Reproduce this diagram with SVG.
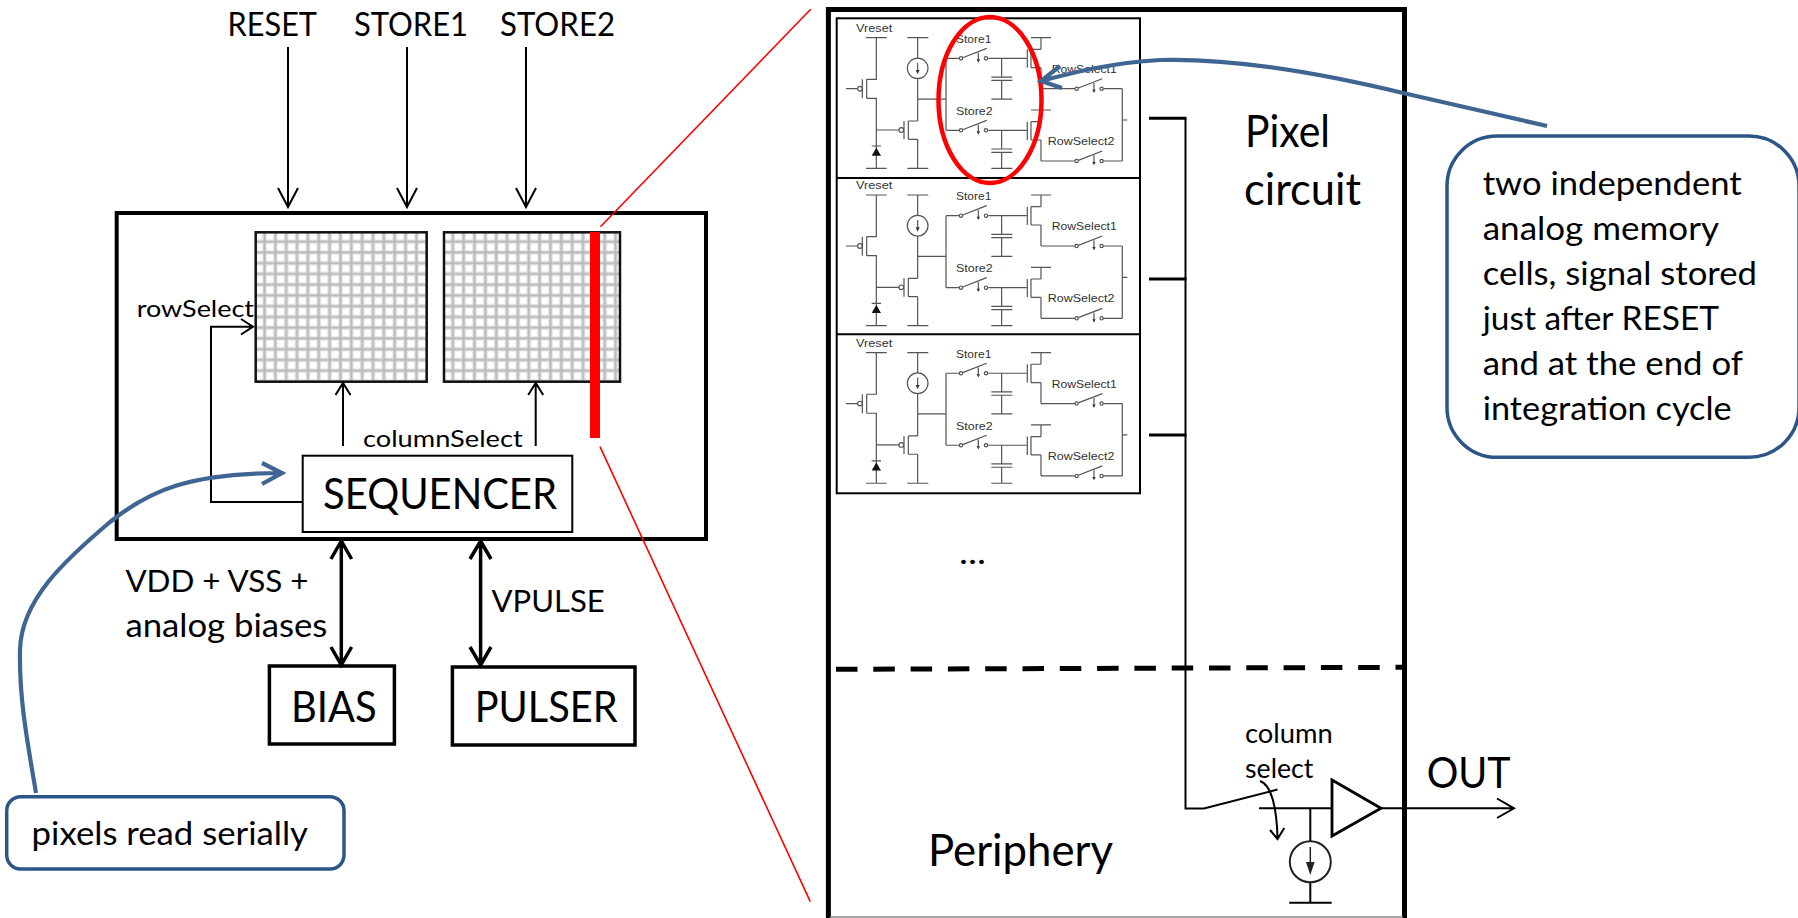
<svg xmlns="http://www.w3.org/2000/svg" width="1798" height="918" viewBox="0 0 1798 918">
<style>
text{font-family:Lato,"Liberation Sans",sans-serif;fill:#000}
.s32{font-size:33px}.s30{font-size:31px}.s22{font-size:24px}.s24{font-size:27px}.s41{font-size:42px}.s44{font-size:45px}.s33{font-size:33.500px}
.c{font-family:"Liberation Sans",Arial,sans-serif;font-size:11.5px;fill:#333}
.box{fill:#fff;stroke:#000;stroke-width:4}
.thin{fill:none;stroke:#000;stroke-width:2}
.thick{fill:none;stroke:#000;stroke-width:3.5}
.red{fill:none;stroke:#f00;stroke-width:1.6}
.blue{fill:none;stroke:#3f6592;stroke-width:4.2}
.call{fill:#fff;stroke:#2c5688;stroke-width:3.5}
.w{fill:none;stroke:#555;stroke-width:3.6}
</style>
<defs>
<pattern id="cells" patternUnits="userSpaceOnUse" x="259.1" y="236.300" width="10.85" height="10.75">
<rect width="10.85" height="10.75" fill="#fff"/>
<path d="M5.425 0V10.75M0 5.375H10.85" fill="none" stroke="#e4e4e4" stroke-width="4.500"/>
<path d="M5.425 0V10.75M0 5.375H10.85" fill="none" stroke="#b8b8b8" stroke-width="2"/>
</pattern>
<g id="sw"><circle cx="0" cy="0" r="5" class="w"/><circle cx="75" cy="0" r="5" class="w"/><path class="w" d="M5-2L77-30M52-17V8"/><path d="M47 3h10l-5 10z" fill="#333"/></g>
<g id="circuit">
<path class="w" d="M108 60H170M139 60V185H110M110 185V242M110 242H139V452M97 185V242M83 213H48M108 452H170M125 385H153M139 337H207M222 310V365M235 310V365M235 310H263M235 365H263M263 60V121M263 183V310M263 365V452M232 60H295M232 452H295M263 244H348M348 122V338M348 122H388M475 122H590M515 122V178M484 178H547M484 188H547M515 188V244M484 244H547M592 95V150M603 95V150M603 95H633M603 150H633M633 60V95M603 60H663M633 150V213M633 213H735M820 213H877M877 213V430M877 307H892M348 338H388M475 338H590M515 338V394M484 394H547M484 404H547M515 404V452M484 452H547M592 312V367M603 312V367M603 312H633M603 367H633M633 277V312M603 277H663M633 367V430M633 430H735M820 430H877"/>
<circle class="w" cx="90" cy="213" r="7"/><circle class="w" cx="214" cy="337" r="7"/><circle class="w" cx="263" cy="152" r="31"/>
<path class="w" d="M263 135V160"/><path d="M257 157h12l-6 13z" fill="#333"/>
<path d="M125 414H153L139 390z" fill="#111"/>
<use href="#sw" x="393" y="122"/><use href="#sw" x="393" y="338"/><use href="#sw" x="740" y="213"/><use href="#sw" x="740" y="430"/>
</g>
</defs>

<g id="sensor"><rect class="box" x="116.700" y="213" width="589.300" height="326"/></g>
<g id="matrix1"><rect x="255.700" y="232.300" width="171" height="149.400" fill="url(#cells)" stroke="#111" stroke-width="2.500"/></g>
<g id="matrix2" transform="translate(188.300 0)"><rect x="255.700" y="232.300" width="176" height="149.400" fill="url(#cells)" stroke="#111" stroke-width="2.500"/></g>
<rect id="column-highlight" x="590" y="232" width="10" height="206" fill="#f00"/>
<g id="sequencer"><rect x="302.700" y="455.700" width="269.600" height="76.300" fill="#fff" stroke="#000" stroke-width="2"/>
<text class="s41" x="323" y="509" textLength="234" lengthAdjust="spacingAndGlyphs">SEQUENCER</text></g>
<g id="bias"><rect x="269.400" y="666" width="125" height="78" fill="#fff" stroke="#000" stroke-width="3.500"/>
<text class="s41" x="291" y="721.700" textLength="85.700" lengthAdjust="spacingAndGlyphs">BIAS</text></g>
<g id="pulser"><rect x="452.400" y="667" width="182.600" height="78" fill="#fff" stroke="#000" stroke-width="3.500"/>
<text class="s41" x="474.700" y="721.700" textLength="143" lengthAdjust="spacingAndGlyphs">PULSER</text></g>

<g id="labels">
<text class="s32" x="227.600" y="36" textLength="89.400" lengthAdjust="spacingAndGlyphs">RESET</text>
<text class="s32" x="354" y="36" textLength="114" lengthAdjust="spacingAndGlyphs">STORE1</text>
<text class="s32" x="500" y="36" textLength="115" lengthAdjust="spacingAndGlyphs">STORE2</text>
<text class="s22" x="136.700" y="317" textLength="117.300" lengthAdjust="spacingAndGlyphs">rowSelect</text>
<text class="s22" x="363" y="446.700" textLength="159.700" lengthAdjust="spacingAndGlyphs">columnSelect</text>
<text class="s30" x="125.400" y="591.700" textLength="183" lengthAdjust="spacingAndGlyphs">VDD + VSS +</text>
<text class="s33" x="125.400" y="636.700" textLength="202" lengthAdjust="spacingAndGlyphs">analog biases</text>
<text class="s30" x="491.600" y="612.300" textLength="113.200" lengthAdjust="spacingAndGlyphs">VPULSE</text>
</g>

<g id="pixel-panel">
<path d="M828.400 918V9.500H1404.500V918" fill="none" stroke="#000" stroke-width="5"/>
<path d="M830 917H1403" stroke="#888" stroke-width="1.500"/>
<path d="M836 669.300L1403 667.300" fill="none" stroke="#000" stroke-width="5" stroke-dasharray="21.500 15.800"/>
<rect x="836.700" y="18.300" width="303.300" height="475" fill="#fff" stroke="#000" stroke-width="2"/>
<path d="M836.700 178H1140M836.700 334.300H1140" stroke="#000" stroke-width="2"/>
</g>
<g id="pixel1">
<use href="#circuit" transform="translate(830 17.700) scale(.3333)"/>
<text class="c" x="856" y="31.700" textLength="36.300" lengthAdjust="spacingAndGlyphs">Vreset</text>
<text class="c" x="956" y="42.700" textLength="35.300" lengthAdjust="spacingAndGlyphs">Store1</text>
<text class="c" x="956" y="115" textLength="36.700" lengthAdjust="spacingAndGlyphs">Store2</text>
<text class="c" x="1051.700" y="72.700" textLength="65" lengthAdjust="spacingAndGlyphs">RowSelect1</text>
<text class="c" x="1047.700" y="144.700" textLength="66.700" lengthAdjust="spacingAndGlyphs">RowSelect2</text>
</g>
<g id="pixel2">
<use href="#circuit" transform="translate(830 175) scale(.3333)"/>
<text class="c" x="856" y="189" textLength="36.300" lengthAdjust="spacingAndGlyphs">Vreset</text>
<text class="c" x="956" y="200" textLength="35.300" lengthAdjust="spacingAndGlyphs">Store1</text>
<text class="c" x="956" y="272.300" textLength="36.700" lengthAdjust="spacingAndGlyphs">Store2</text>
<text class="c" x="1051.700" y="230" textLength="65" lengthAdjust="spacingAndGlyphs">RowSelect1</text>
<text class="c" x="1047.700" y="302" textLength="66.700" lengthAdjust="spacingAndGlyphs">RowSelect2</text>
</g>
<g id="pixel3">
<use href="#circuit" transform="translate(830 332.600) scale(.3333)"/>
<text class="c" x="856" y="346.600" textLength="36.300" lengthAdjust="spacingAndGlyphs">Vreset</text>
<text class="c" x="956" y="357.600" textLength="35.300" lengthAdjust="spacingAndGlyphs">Store1</text>
<text class="c" x="956" y="429.900" textLength="36.700" lengthAdjust="spacingAndGlyphs">Store2</text>
<text class="c" x="1051.700" y="387.600" textLength="65" lengthAdjust="spacingAndGlyphs">RowSelect1</text>
<text class="c" x="1047.700" y="459.600" textLength="66.700" lengthAdjust="spacingAndGlyphs">RowSelect2</text>
</g>
<ellipse id="memory-highlight" cx="990" cy="100" rx="51.500" ry="83" fill="none" stroke="#f00" stroke-width="4.500"/>

<g id="panel-labels">
<text class="s44" x="1245" y="147.300" textLength="85" lengthAdjust="spacingAndGlyphs">Pixel</text>
<text class="s44" x="1244" y="205" textLength="117" lengthAdjust="spacingAndGlyphs">circuit</text>
<text class="s32" x="959" y="564" textLength="27" lengthAdjust="spacingAndGlyphs">...</text>
<text class="s44" x="928" y="866" textLength="185" lengthAdjust="spacingAndGlyphs">Periphery</text>
<text class="s24" x="1245" y="742.700" textLength="87.700" lengthAdjust="spacingAndGlyphs">column</text>
<text class="s24" x="1245" y="778.300" textLength="68.300" lengthAdjust="spacingAndGlyphs">select</text>
<text class="s41" x="1426.700" y="788.300" textLength="84" lengthAdjust="spacingAndGlyphs">OUT</text>
</g>

<g id="connectors">
<path class="thin" d="M288 47V207M278 188L288 207L298 188M407 47V207M397 188L407 207L417 188M526 47V207M516 188L526 207L536 188"/>
<path class="thin" d="M343 446V383M335.500 395L343 383L350.500 395M535.700 446V383M528.200 395L535.700 383L543.200 395"/>
<path class="thin" d="M302.700 502H211V326.700H253M241 319L253 326.700L241 334.500"/>
<path class="thick" d="M341.300 540V665M331 559L341.300 541L351.600 559M331 647L341.300 665L351.600 647M480.600 540V665M470 559L480.600 541L491 559M470 647L480.600 665L491 647"/>
<path class="red" d="M600.500 226.700L810.700 9.300M600 446.700L810.300 901.700"/>
<path class="thin" d="M1185.500 118.300V808.500H1204L1277.500 789.500"/>
<path d="M1149 118.300H1186.500M1149 279H1186.500M1149 435H1186.500" fill="none" stroke="#000" stroke-width="3"/>
<path class="thin" d="M1259 808.300H1332M1381 808.300H1514M1497 798.500L1514 808.300L1497 818M1310.300 808.300V841.700M1310.300 882V902.700M1289.300 902.700H1331.700"/>
<path class="thin" d="M1260 781C1272 785 1277 810 1277.500 839M1270 830L1277.500 839L1284.300 828"/>
</g>

<g id="readout">
<path d="M1332 780V836L1381 808.300Z" fill="#fff" stroke="#000" stroke-width="2.800"/>
<circle cx="1310.300" cy="861.700" r="20.500" fill="#fff" stroke="#222" stroke-width="2"/>
<path d="M1310.300 847V870" stroke="#222" stroke-width="1.500"/><path d="M1306 862h8.600l-4.300 13z" fill="#222"/>
</g>

<g id="callouts">
<path class="blue" d="M36 793C28 745 19 700 20 650C21 600 65 560 110 522C150 490 190 473 282 473M262 463L282 473L262 484"/>
<path class="blue" d="M1547 126L1403 93C1320 73 1230 58 1160 60C1110 63 1075 72 1041 81M1060 66L1041 81L1062 88"/>
</g>
<g id="callout-serial"><rect class="call" x="6.700" y="796.700" width="337.300" height="72.300" rx="14"/>
<text class="s33" x="31.600" y="845" textLength="276.400" lengthAdjust="spacingAndGlyphs">pixels read serially</text></g>
<g id="callout-memory"><rect class="call" x="1447" y="136" width="352" height="321.300" rx="50"/>
<text class="s33" x="1482.700" y="195" textLength="259" lengthAdjust="spacingAndGlyphs">two independent</text>
<text class="s33" x="1482.700" y="240" textLength="236.300" lengthAdjust="spacingAndGlyphs">analog memory</text>
<text class="s33" x="1482.700" y="285" textLength="274.300" lengthAdjust="spacingAndGlyphs">cells, signal stored</text>
<text class="s33" x="1482.700" y="330" textLength="236.300" lengthAdjust="spacingAndGlyphs">just after RESET</text>
<text class="s33" x="1482.700" y="375" textLength="260.300" lengthAdjust="spacingAndGlyphs">and at the end of</text>
<text class="s33" x="1482.700" y="420" textLength="249" lengthAdjust="spacingAndGlyphs">integration cycle</text></g>
</svg>
